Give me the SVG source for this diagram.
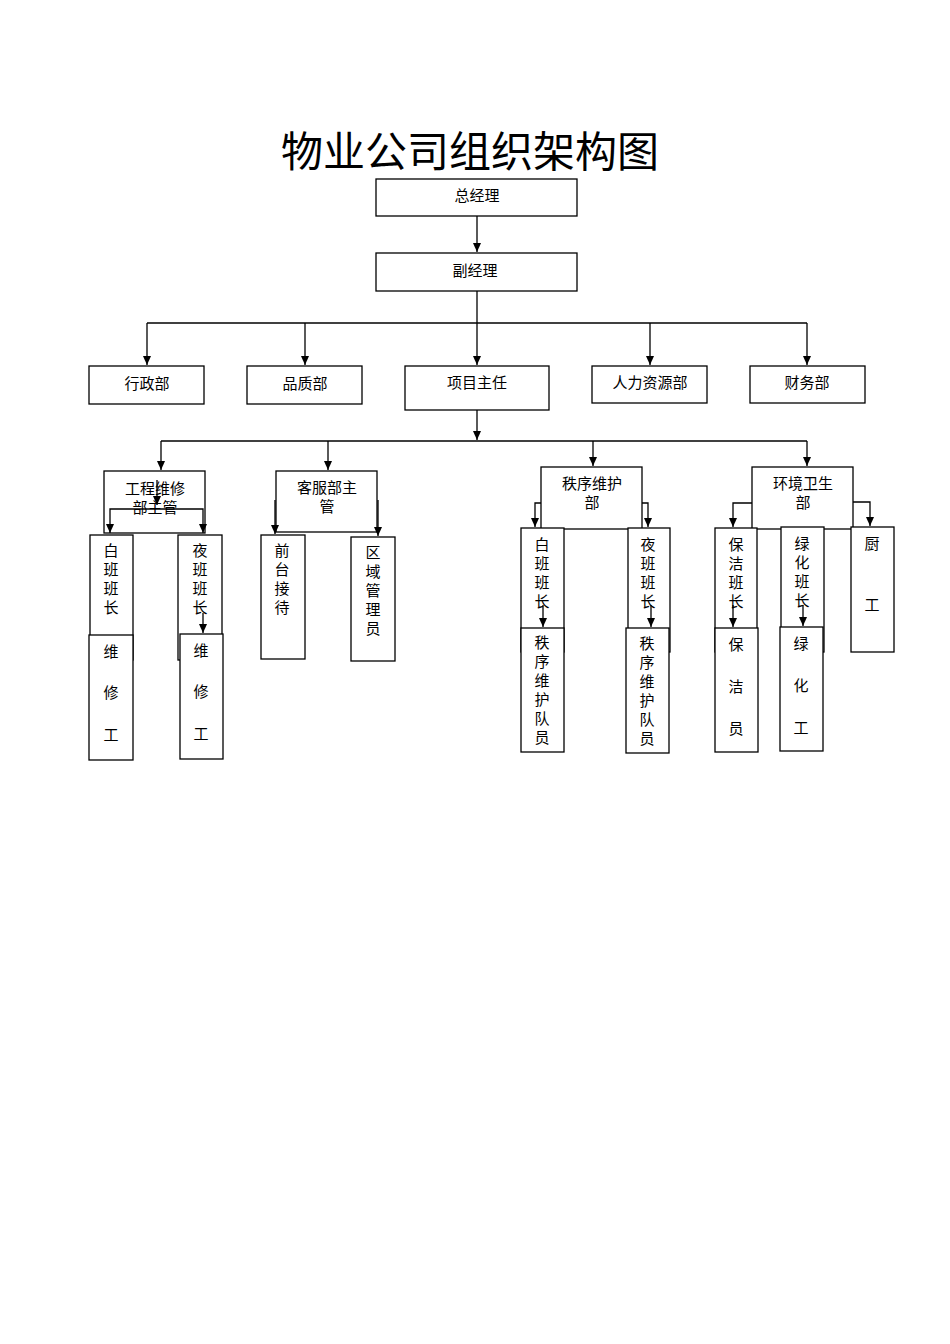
<svg xmlns="http://www.w3.org/2000/svg" width="950" height="1344" viewBox="0 0 950 1344">
<style>
rect{fill:#fff;stroke:#000;stroke-width:1.3}
text{font-family:"Liberation Serif","Noto Sans CJK SC",serif;font-size:15px;fill:#000;text-anchor:middle}
.c path,.c line{stroke:#000;stroke-width:1.3;fill:none;marker-end:url(#a)}
.c .n{marker-end:none}
</style>
<defs><marker id="a" markerWidth="10" markerHeight="10" refX="9" refY="5" orient="auto" markerUnits="userSpaceOnUse"><path d="M0,1 L9,5 L0,9z" fill="#000"/></marker></defs>
<rect width="950" height="1344" style="stroke:none"/>
<text x="470" y="167" style="font-size:42px">物业公司组织架构图</text>
<g id="n1"><rect x="376" y="179" width="201" height="37"/><text x="477" y="201">总经理</text></g>
<g id="n2"><rect x="376" y="253" width="201" height="38"/><text x="475" y="276">副经理</text></g>
<g id="n3"><rect x="89" y="366" width="115" height="38"/><text x="147" y="389">行政部</text></g>
<g id="n4"><rect x="247" y="366" width="115" height="38"/><text x="305" y="389">品质部</text></g>
<g id="n5"><rect x="405" y="366" width="144" height="44"/><text x="477" y="388">项目主任</text></g>
<g id="n6"><rect x="592" y="366" width="115" height="37"/><text x="650" y="388">人力资源部</text></g>
<g id="n7"><rect x="750" y="366" width="115" height="37"/><text x="807" y="388">财务部</text></g>
<g class="c">
<line x1="477" y1="216" x2="477" y2="252"/>
<line x1="477" y1="291" x2="477" y2="365"/>
<path class="n" d="M147,323 H807"/>
<line x1="147" y1="323" x2="147" y2="365"/>
<line x1="305" y1="323" x2="305" y2="365"/>
<line x1="650" y1="323" x2="650" y2="365"/>
<line x1="807" y1="323" x2="807" y2="365"/>
<line x1="477" y1="410" x2="477" y2="440"/>
<path class="n" d="M161,441 H807"/>
<line x1="161" y1="441" x2="161" y2="470"/>
<line x1="328" y1="441" x2="328" y2="470"/>
<line x1="593" y1="441" x2="593" y2="466"/>
<line x1="807" y1="441" x2="807" y2="466"/>
</g>
<g id="g1"><rect x="104" y="471" width="101" height="62"/><text x="155" y="494">工程维修</text><text x="155" y="513">部主管</text></g>
<g id="g2"><rect x="276" y="471" width="101" height="61"/><text x="327" y="493">客服部主</text><text x="327" y="512">管</text></g>
<g id="g3"><rect x="541" y="467" width="101" height="62"/><text x="592" y="489">秩序维护</text><text x="592" y="508">部</text></g>
<g id="g4"><rect x="752" y="467" width="101" height="62"/><text x="803" y="489">环境卫生</text><text x="803" y="508">部</text></g>
<g id="l1"><rect x="90" y="535" width="43" height="125"/><text x="111" y="556">白</text><text x="111" y="575">班</text><text x="111" y="594">班</text><text x="111" y="613">长</text></g>
<g id="l2"><rect x="178" y="535" width="44" height="125"/><text x="200" y="556">夜</text><text x="200" y="575">班</text><text x="200" y="594">班</text><text x="200" y="613">长</text></g>
<g id="l3"><rect x="89" y="635" width="44" height="125"/><text x="111" y="657">维</text><text x="111" y="698">修</text><text x="111" y="740">工</text></g>
<g id="l4"><rect x="180" y="634" width="43" height="125"/><text x="201" y="656">维</text><text x="201" y="697">修</text><text x="201" y="739">工</text></g>
<g id="l5"><rect x="261" y="535" width="44" height="124"/><text x="282" y="556">前</text><text x="282" y="575">台</text><text x="282" y="594">接</text><text x="282" y="613">待</text></g>
<g id="l6"><rect x="351" y="537" width="44" height="124"/><text x="373" y="558">区</text><text x="373" y="577">域</text><text x="373" y="596">管</text><text x="373" y="615">理</text><text x="373" y="634">员</text></g>
<g id="l7"><rect x="521" y="528" width="43" height="124"/><text x="542" y="550">白</text><text x="542" y="569">班</text><text x="542" y="588">班</text><text x="542" y="607">长</text></g>
<g id="l8"><rect x="628" y="528" width="42" height="124"/><text x="648" y="550">夜</text><text x="648" y="569">班</text><text x="648" y="588">班</text><text x="648" y="607">长</text></g>
<g id="l9"><rect x="521" y="628" width="43" height="124"/><text x="542" y="648">秩</text><text x="542" y="667">序</text><text x="542" y="686">维</text><text x="542" y="705">护</text><text x="542" y="724">队</text><text x="542" y="743">员</text></g>
<g id="l10"><rect x="626" y="628" width="43" height="125"/><text x="647" y="649">秩</text><text x="647" y="668">序</text><text x="647" y="687">维</text><text x="647" y="706">护</text><text x="647" y="725">队</text><text x="647" y="744">员</text></g>
<g id="l11"><rect x="715" y="528" width="42" height="124"/><text x="736" y="550">保</text><text x="736" y="569">洁</text><text x="736" y="588">班</text><text x="736" y="607">长</text></g>
<g id="l12"><rect x="781" y="527" width="43" height="125"/><text x="802" y="549">绿</text><text x="802" y="568">化</text><text x="802" y="587">班</text><text x="802" y="606">长</text></g>
<g id="l13"><rect x="851" y="527" width="43" height="125"/><text x="872" y="549">厨</text><text x="872" y="610">工</text></g>
<g id="l14"><rect x="715" y="628" width="43" height="124"/><text x="736" y="650">保</text><text x="736" y="692">洁</text><text x="736" y="734">员</text></g>
<g id="l15"><rect x="780" y="627" width="43" height="124"/><text x="801" y="649">绿</text><text x="801" y="691">化</text><text x="801" y="733">工</text></g>
<g class="c">
<line x1="157" y1="480" x2="157" y2="505"/>
<path d="M157,509 H110 V533"/>
<path d="M157,509 H203 V533"/>
<line x1="203" y1="613" x2="203" y2="633"/>
<line x1="275" y1="500" x2="275" y2="534"/>
<line x1="378" y1="500" x2="378" y2="536"/>
<path d="M541,503 H535 V527"/>
<path d="M642,503 H648 V527"/>
<line x1="543" y1="605" x2="543" y2="627"/>
<line x1="651" y1="605" x2="651" y2="627"/>
<path d="M752,503 H733 V527"/>
<path d="M853,502 H870 V526"/>
<line x1="733" y1="605" x2="733" y2="627"/>
<line x1="803" y1="605" x2="803" y2="626"/>
</g>
</svg>
